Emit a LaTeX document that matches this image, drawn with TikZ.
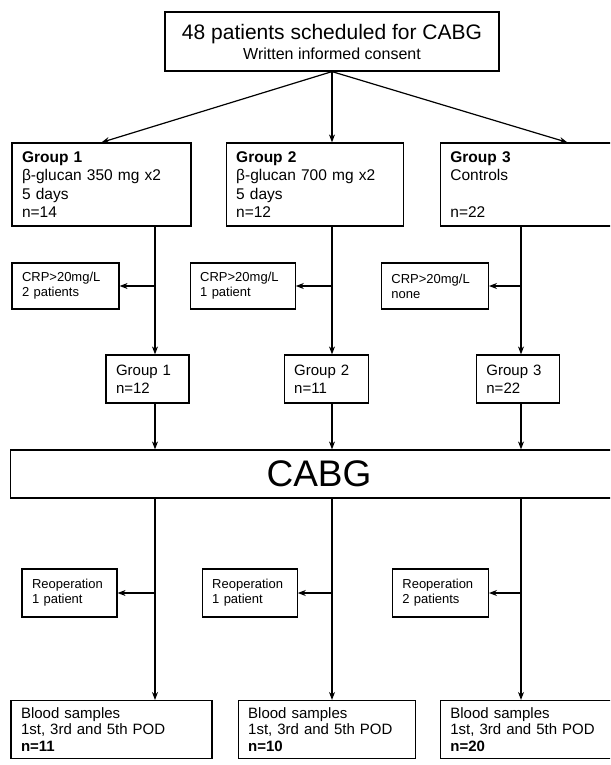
\documentclass[tikz,border=0pt]{standalone}
\usepackage{fontspec}
\setmainfont{Liberation Sans}
\usetikzlibrary{positioning,arrows.meta}

\tikzset{
	box/.style={draw, line width=1.2pt, rectangle, inner xsep=10pt, inner ysep=3pt, align=left},
	groupbox/.style={box, font=\fontsize{15.5}{18.5}\selectfont, minimum height=83pt},
	crpbox/.style={box, font=\fontsize{13}{15}\selectfont, minimum height=46pt},
	subgroup/.style={box, font=\fontsize{15}{18}\selectfont, minimum height=48pt},
	reopbox/.style={box, font=\fontsize{13}{15}\selectfont, minimum height=48pt},
	bloodbox/.style={box, font=\fontsize{15}{16.5}\selectfont, inner ysep=7pt},
	flow/.style={-{Stealth[length=8pt,width=6pt]}, line width=1.2pt},
}

\begin{document}
\begin{tikzpicture}[x=1pt, y=-1pt]
	\useasboundingbox (0,0) rectangle (610,765);
	\clip (0,0) rectangle (610,765);
	\fill[white] (0,0) rectangle (610,765);

	% columns of the three arms
	\coordinate (c1) at (155,0);
	\coordinate (c2) at (332,0);
	\coordinate (c3) at (521,0);

	\node [box, align=center, minimum width=334pt, minimum height=59pt,
		font=\fontsize{16}{20}\selectfont] (top) at (332,41.5)
		{{\fontsize{21}{20}\selectfont 48 patients scheduled for CABG}\\Written informed consent};

	\node [groupbox, text width=159pt] (g1) at (101.5,184.5)
		{\textbf{Group 1}\\β-glucan 350 mg x2\\5 days\\n=14};
	\node [groupbox, text width=157pt, right=34pt of g1] (g2)
		{\textbf{Group 2}\\β-glucan 700 mg x2\\5 days\\n=12};
	\node [groupbox, text width=234pt, right=36pt of g2] (g3)
		{\textbf{Group 3}\\Controls\\~\\n=22};

	\node [crpbox, text width=87pt] (crp1) at (65.5,286) {CRP>20mg/L\\2 patients};
	\node [crpbox, text width=85pt, right=70pt of crp1] (crp2) {CRP>20mg/L\\1 patient};
	\node [crpbox, text width=87pt, right=85pt of crp2] (crp3) {CRP>20mg/L\\none};

	\node [subgroup, text width=63pt] (sg1) at (147.5,379) {Group 1\\n=12};
	\node [subgroup, text width=64pt, right=94pt of sg1] (sg2) {Group 2\\n=11};
	\node [subgroup, text width=63pt, right=107pt of sg2] (sg3) {Group 3\\n=22};

	\node [box, align=center, minimum width=617pt, minimum height=48pt,
		font=\fontsize{37}{40}\selectfont] (cabg) at (319,474) {CABG};

	\node [reopbox, text width=75pt] (re1) at (69.5,593) {Reoperation\\1 patient};
	\node [reopbox, text width=75pt, right=84pt of re1] (re2) {Reoperation\\1 patient};
	\node [reopbox, text width=76pt, right=94pt of re2] (re3) {Reoperation\\2 patients};

	\node [bloodbox, text width=181pt, anchor=north] (bs1) at (111.5,700)
		{Blood samples\\1st, 3rd and 5th POD\\\textbf{n=11}};
	\node [bloodbox, text width=157pt, right=25pt of bs1] (bs2)
		{Blood samples\\1st, 3rd and 5th POD\\\textbf{n=10}};
	\node [bloodbox, text width=192pt, right=24pt of bs2] (bs3)
		{Blood samples\\1st, 3rd and 5th POD\\\textbf{n=20}};

	% randomisation
	\draw [flow] (top.south) -- (g1.north);
	\draw [flow] (top.south) -- (g2.north -| c2);
	\draw [flow] (top.south) -- (g3.north);

	\foreach \i in {1,2,3} {
		\draw [flow] (g\i.south -| c\i) -- (sg\i.north -| c\i);
		\draw [flow] (crp\i.east -| c\i) -- (crp\i.east);
		\draw [flow] (sg\i.south -| c\i) -- (cabg.north -| c\i);
		\draw [flow] (cabg.south -| c\i) -- (bs\i.north -| c\i);
		\draw [flow] (re\i.east -| c\i) -- (re\i.east);
	}
\end{tikzpicture}
\end{document}
